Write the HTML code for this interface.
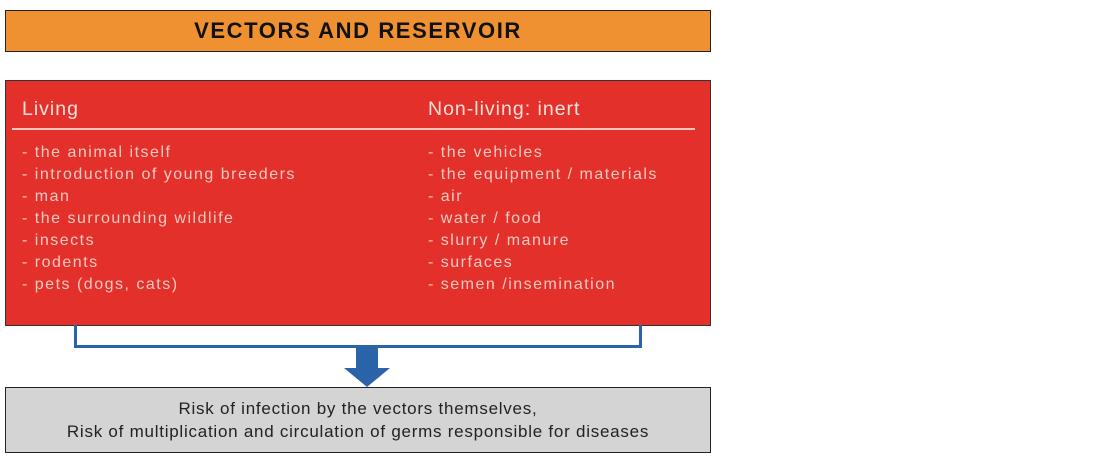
<!DOCTYPE html>
<html><head><style>
body{margin:0;width:1100px;height:463px;background:#fff;position:relative;overflow:hidden;font-family:"Liberation Sans",sans-serif}
div{position:absolute;box-sizing:border-box}
.t{color:#f6c9c0;font-size:16px;letter-spacing:1.5px;line-height:22px;white-space:nowrap}
.h{color:#fbe3dc;font-size:19.5px;letter-spacing:1px;white-space:nowrap}
</style></head><body>
<div style="left:5px;top:10px;width:706px;height:42px;background:#ef9130;border:1.5px solid #222;text-align:center;font-weight:bold;font-size:22px;line-height:40px;color:#111;letter-spacing:1.6px">VECTORS AND RESERVOIR</div>
<div style="left:5px;top:80px;width:706px;height:246px;background:#e3302a;border:1.5px solid #333"></div>
<div class="h" style="left:22px;top:98px">Living</div>
<div class="h" style="left:428px;top:98px">Non-living: inert</div>
<div style="left:12px;top:128px;width:683px;height:2px;background:#f4c8c0"></div>
<div class="t" style="left:22px;top:142px">- the animal itself<br>- introduction of young breeders<br>- man<br>- the surrounding wildlife<br>- insects<br>- rodents<br>- pets (dogs, cats)</div>
<div class="t" style="left:428px;top:142px">- the vehicles<br>- the equipment / materials<br>- air<br>- water / food<br>- slurry / manure<br>- surfaces<br>- semen /insemination</div>
<div style="left:74px;top:325px;width:568px;height:23px;border:3px solid #2b63a8;border-top:none"></div>
<div style="left:356px;top:346px;width:22px;height:24px;background:#2b63a8"></div>
<svg style="position:absolute;left:344px;top:368px" width="46" height="20"><polygon points="0,0 46,0 23,19" fill="#2b63a8"/></svg>
<div style="left:5px;top:387px;width:706px;height:66px;background:#d4d4d4;border:1.5px solid #222;text-align:center;font-size:17px;letter-spacing:0.75px;line-height:23px;padding-top:9px;color:#222;white-space:nowrap">Risk of infection by the vectors themselves,<br>Risk of multiplication and circulation of germs responsible for diseases</div>
</body></html>
